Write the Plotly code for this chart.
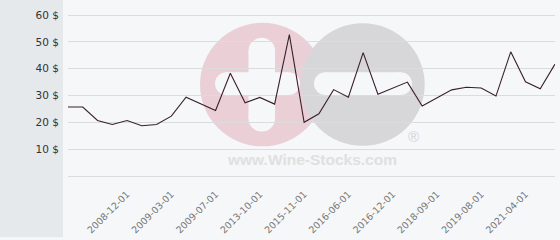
import plotly.graph_objects as go

dates = ["2008-08-01", "2008-09-01", "2008-10-01", "2008-11-01", "2008-12-01",
         "2009-01-01", "2009-02-01", "2009-03-01", "2009-04-01", "2009-05-01",
         "2009-07-01", "2010-06-01", "2012-09-01", "2013-10-01", "2014-05-01",
         "2015-03-01", "2015-11-01", "2016-02-01", "2016-04-01", "2016-06-01",
         "2016-08-01", "2016-10-01", "2016-12-01", "2017-06-01", "2018-02-01",
         "2018-09-01", "2018-12-01", "2019-04-01", "2019-08-01", "2020-03-01",
         "2020-10-01", "2021-04-01", "2021-10-01", "2022-04-01"]
prices = [25.7, 25.7, 20.7, 19.2, 20.7, 18.75, 19.2, 22.3, 29.4, 27.0,
          24.4, 38.3, 27.3, 29.3, 26.8, 52.7, 20.0, 23.2, 32.2, 29.4,
          46.0, 30.5, 32.7, 35.0, 26.1, 29.2, 32.1, 33.1, 32.8, 29.8,
          46.3, 35.1, 32.5, 41.7]
tick_labels = ["2008-12-01", "2009-03-01", "2009-07-01", "2013-10-01", "2015-11-01",
               "2016-06-01", "2016-12-01", "2018-09-01", "2019-08-01", "2021-04-01"]
y_ticks = [10, 20, 30, 40, 50, 60]

W, H = 560, 240
L, R, T, B = 68, 5, 7, 62
PW, PH = W - L - R, H - T - B


def px(x):
    return (x - L) / PW


def py(y):
    return (H - B - y) / PH


fig = go.Figure()
fig.add_trace(go.Scatter(x=dates, y=prices, mode="lines",
                         line=dict(color="#3a1f2c", width=1.1),
                         hoverinfo="x+y", showlegend=False))

shapes = []
# left gray strip
shapes.append(dict(type="rect", xref="paper", yref="paper", x0=px(0), x1=px(63),
                   y0=py(H), y1=py(0), fillcolor="#e6e9ec", line_width=0, layer="below"))


def circ(cx, cy, r, color):
    return dict(type="circle", xref="paper", yref="paper", x0=px(cx - r), x1=px(cx + r),
                y0=py(cy + r), y1=py(cy - r), fillcolor=color, line_width=0, layer="below")


def rbar(x0, x1, y0, y1, color):
    r = (y1 - y0) / 2
    out = [dict(type="rect", xref="paper", yref="paper", x0=px(x0 + r), x1=px(x1 - r),
                y0=py(y1), y1=py(y0), fillcolor=color, line_width=0, layer="below"),
           circ(x0 + r, (y0 + y1) / 2, r, color), circ(x1 - r, (y0 + y1) / 2, r, color)]
    return out


def vbar(x0, x1, y0, y1, color):
    r = (x1 - x0) / 2
    out = [dict(type="rect", xref="paper", yref="paper", x0=px(x0), x1=px(x1),
                y0=py(y1 - r), y1=py(y0 + r), fillcolor=color, line_width=0, layer="below"),
           circ((x0 + x1) / 2, y0 + r, r, color), circ((x0 + x1) / 2, y1 - r, r, color)]
    return out


bg = "#f6f7f9"
shapes.append(circ(262.5, 85.5, 62.5, "#ead0d6"))
shapes += rbar(215, 300, 73, 96, bg)
shapes += vbar(248.5, 275, 38, 133, bg)
shapes.append(circ(362.7, 85.5, 62, "#d7d7d9"))
shapes += rbar(314, 412, 73, 96, bg)

fig.update_layout(
    width=W, height=H,
    margin=dict(l=L, r=R, t=T, b=B),
    paper_bgcolor=bg, plot_bgcolor=bg,
    shapes=shapes,
    font=dict(family="DejaVu Sans", size=10.5, color="#333333"),
    annotations=[
        dict(text="www.Wine-Stocks.com", xref="paper", yref="paper", x=px(312), y=py(161),
             showarrow=False, font=dict(family="Liberation Sans", size=15.5, color="#e0e0e0"),
             xanchor="center", yanchor="middle"),
        dict(text="®", xref="paper", yref="paper", x=px(413), y=py(138),
             showarrow=False, font=dict(family="Liberation Sans", size=15, color="#d4d4d6"),
             xanchor="center", yanchor="middle"),
    ],
)
fig.layout.annotations[0].text = "<b>www.Wine-Stocks.com</b>"
fig.update_xaxes(type="category", range=[0, len(dates) - 1], showgrid=False,
                 tickmode="array", tickvals=tick_labels, ticktext=tick_labels,
                 tickangle=-45, tickfont=dict(size=9.5, color="#777777"),
                 ticks="outside", ticklen=8, tickcolor="rgba(0,0,0,0)",
                 showline=False, zeroline=False)
fig.update_yaxes(range=[0, 63], tickvals=y_ticks, ticktext=[f"{v} $" for v in y_ticks],
                 showgrid=True, gridcolor="#dcdcdf", gridwidth=1,
                 zeroline=True, zerolinecolor="#dcdcdf", zerolinewidth=1,
                 ticks="outside", ticklen=6, tickcolor="rgba(0,0,0,0)",
                 showline=False)

fig.write_html("out.html")
